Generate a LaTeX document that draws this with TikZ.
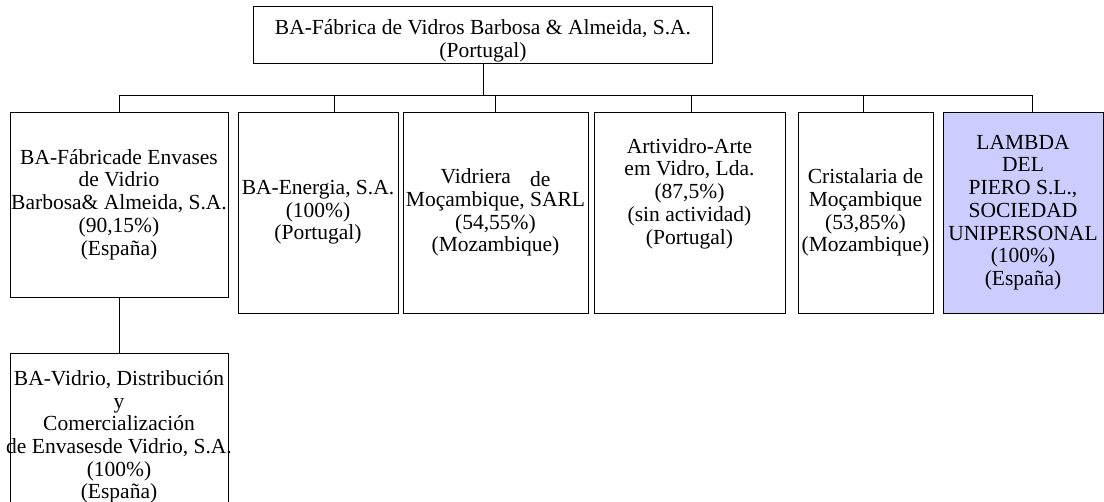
\documentclass[tikz,border=0pt]{standalone}
\usepackage{fontspec}
\setmainfont{Liberation Serif}
\usetikzlibrary{positioning}
\newcommand{\fullline}[1]{\makebox[0pt]{#1}}

\begin{document}
\begin{tikzpicture}[x=1pt,y=-1pt]
    \useasboundingbox (0,0) rectangle (1104,502);
    \clip (0,0) rectangle (1104,502);

    \begin{scope} [every node/.style={draw,line width=0.8pt,align=center,inner sep=1pt,
            font=\fontsize{21.5}{22.7}\selectfont}]
        \node[minimum width=459pt,minimum height=56pt] (BA) at (483,35)
            {\rule{0pt}{27pt}BA-Fábrica de Vidros Barbosa \& Almeida, S.A.\\(Portugal)};
        \node[minimum width=218pt,minimum height=185pt] (envases) at (119,204.5)
            {BA-Fábricade Envases\\de Vidrio\\\fullline{Barbosa\& Almeida, S.A.}\\(90,15\%)\\(España)};
        \node[minimum width=160pt,minimum height=201pt] (energia) at (318,212.5)
            {BA-Energia, S.A.\\(100\%)\\(Portugal)};
        \node[minimum width=185pt,minimum height=201pt] (vidriera) at (495.5,212.5)
            {Vidriera\hspace{19pt}\raisebox{-3pt}{de}\\\fullline{Moçambique, SARL}\\(54,55\%)\\(Mozambique)};
        \node[minimum width=191pt,minimum height=201pt] (artividro) at (689.5,212.5)
            {Artividro-Arte\\em Vidro, Lda.\\(87,5\%)\\(sin actividad)\\(Portugal)\\[20pt]};
        \node[minimum width=135pt,minimum height=201pt] (cristalaria) at (865.5,212.5)
            {Cristalaria de\\Moçambique\\(53,85\%)\\(Mozambique)};
        \node[minimum width=160pt,minimum height=201pt,fill={rgb,255:red,204;green,204;blue,255}]
            (lambda) at (1023,212.5)
            {LAMBDA\\DEL\\PIERO S.L.,\\SOCIEDAD\\\fullline{UNIPERSONAL}\\(100\%)\\(España)};
        \node[minimum width=218pt,minimum height=168pt] (distribucion) at (119,437)
            {BA-Vidrio, Distribución\\y\\Comercialización\\\fullline{de Envasesde Vidrio, S.A.}\\(100\%)\\(España)};
    \end{scope}

    \begin{scope}[line width=0.8pt]
        \coordinate (bus) at (483,95);
        \draw (BA.south) -- (bus);
        \draw (envases.north) -- (envases.north |- bus)
            -- ([xshift=9pt]lambda.north |- bus) -- ([xshift=9pt]lambda.north);
        \draw ([xshift=16pt]energia.north) -- ([xshift=16pt]energia.north |- bus);
        \draw (vidriera.north) -- (vidriera.north |- bus);
        \draw ([xshift=1.5pt]artividro.north) -- ([xshift=1.5pt]artividro.north |- bus);
        \draw ([xshift=-2.5pt]cristalaria.north) -- ([xshift=-2.5pt]cristalaria.north |- bus);
        \draw (envases.south) -- (distribucion.north);
    \end{scope}
\end{tikzpicture}
\end{document}
